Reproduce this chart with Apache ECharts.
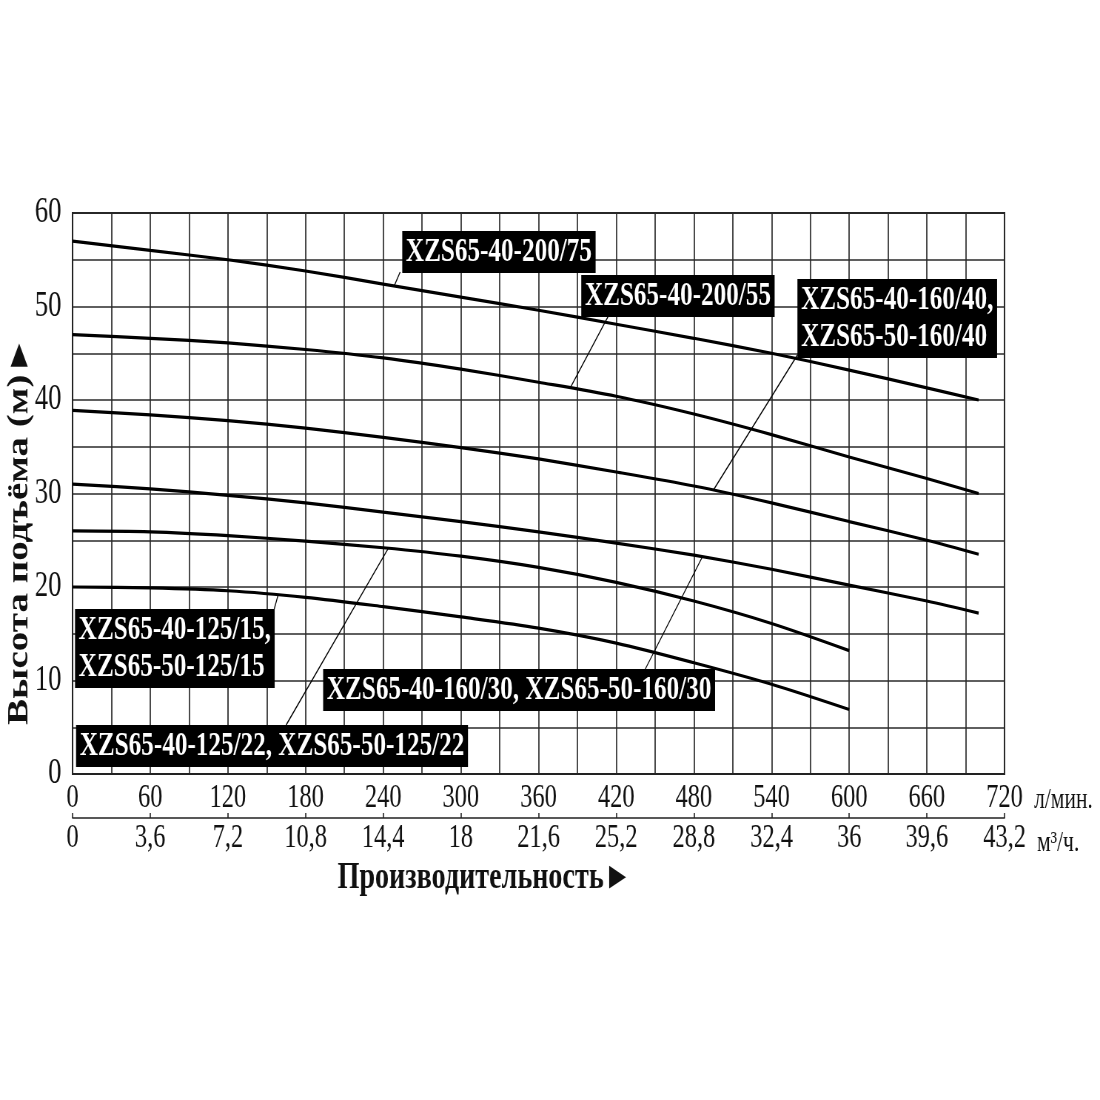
<!DOCTYPE html>
<html>
<head>
<meta charset="utf-8">
<script src="https://cdn.jsdelivr.net/npm/echarts@6/dist/echarts.min.js"></script>
<style>
html,body{margin:0;padding:0;background:#fff;overflow:hidden;}
#wrap{width:1100px;height:1100px;overflow:hidden;position:relative;background:#fff;}
#main{width:1486px;height:1100px;transform:scaleX(0.74024);transform-origin:0 0;}
</style>
</head>
<body>
<div id="wrap"><div id="main"></div></div>
<script>
// ---- data ----
const flowLong  = [0, 60, 120, 180, 240, 300, 360, 420, 480, 540, 600, 660, 700];
const flowShort = [0, 60, 120, 180, 240, 300, 360, 420, 480, 540, 600];
const head_200_75 = [57, 56, 55, 53.8, 52.4, 51.0, 49.6, 48.1, 46.6, 45.0, 43.2, 41.3, 40.0];
const head_200_55 = [47, 46.6, 46.1, 45.4, 44.5, 43.3, 41.9, 40.4, 38.5, 36.3, 33.9, 31.6, 30.0];
const head_160_40 = [38.9, 38.4, 37.8, 37.0, 36.0, 34.9, 33.7, 32.3, 30.8, 29.0, 27.0, 25.0, 23.5];
const head_160_30 = [31, 30.5, 29.8, 29.0, 28.0, 27.0, 25.9, 24.7, 23.4, 21.9, 20.2, 18.5, 17.2];
const head_125_22 = [26, 25.9, 25.5, 24.9, 24.2, 23.3, 22.1, 20.5, 18.5, 16.1, 13.2];
const head_125_15 = [20, 19.9, 19.6, 18.9, 17.9, 16.8, 15.6, 14.0, 11.9, 9.6, 6.9];

const curveNames = ['XZS65-40-200/75', 'XZS65-40-200/55', 'XZS65-40-160/40', 'XZS65-40-160/30', 'XZS65-40-125/22', 'XZS65-40-125/15'];
const curveFlows = [flowLong, flowLong, flowLong, flowLong, flowShort, flowShort];
const curveHeads = [head_200_75, head_200_55, head_160_40, head_160_30, head_125_22, head_125_15];

const flowLabels = ['0','60','120','180','240','300','360','420','480','540','600','660','720'];
const m3hLabels  = ['0','3,6','7,2','10,8','14,4','18','21,6','25,2','28,8','32,4','36','39,6','43,2'];
const headLabels = ['0','10','20','30','40','50','60'];

const labelTexts = [
  'XZS65-40-200/75',
  'XZS65-40-200/55',
  'XZS65-40-160/40,\nXZS65-50-160/40',
  'XZS65-40-160/30, XZS65-50-160/30',
  'XZS65-40-125/15,\nXZS65-50-125/15',
  'XZS65-40-125/22, XZS65-50-125/22'
];
// ---- annotation layout (data coordinates) ----
const labelLayout = [
  {box:[254.7, 58.07], from:[253.1, 53.69], curve:0, at:248.5},
  {box:[393.0, 53.37], from:[413.9, 48.98], curve:1, at:384.5},
  {box:[560.0, 52.94], from:[560.0, 44.81], curve:2, at:495.0},
  {box:[193.6, 11.23], from:[442.5, 11.23], curve:3, at:486.6},
  {box:[1.9, 17.65],   from:[155.8, 17.65], curve:5, at:158.8},
  {box:[2.7, 5.24],    from:[165.0, 5.24],  curve:4, at:243.9}
];

const FONT = '"Liberation Serif", "Times New Roman", serif';

function interp(xs, ys, x) {
  for (let i = 0; i < xs.length - 1; i++) {
    if (x >= xs[i] && x <= xs[i + 1]) {
      const t = (x - xs[i]) / (xs[i + 1] - xs[i]);
      return ys[i] + t * (ys[i + 1] - ys[i]);
    }
  }
  return ys[ys.length - 1];
}

const chart = echarts.init(document.getElementById('main'), null, {renderer: 'canvas'});

const series = curveNames.map((n, i) => ({
  name: n,
  type: 'line',
  smooth: 0.3,
  showSymbol: false,
  lineStyle: {color: '#000', width: 3.2},
  data: curveFlows[i].map((x, j) => [x, curveHeads[i][j]]),
  z: 5
}));

function hiddenAxis(offset, extra) {
  return Object.assign({
    type: 'value', min: 0, max: 720, position: 'bottom', offset: offset,
    axisLine: {show: false}, axisTick: {show: false}, axisLabel: {show: false}, splitLine: {show: false}
  }, extra);
}

const option = {
  animation: false,
  backgroundColor: '#fff',
  grid: {left: 98, right: 129, top: 213, bottom: 326, show: true, borderColor: '#222', borderWidth: 2,
         containLabel: false, outerBoundsMode: 'none'},
  xAxis: [
    {
      type: 'value', min: 0, max: 720, interval: 30,
      axisLine: {show: true, lineStyle: {color: '#222', width: 2}},
      axisTick: {show: false},
      splitLine: {show: true, lineStyle: {color: '#2a2a2a', width: 1.7}},
      axisLabel: {formatter: v => (v % 60 === 0 ? flowLabels[v / 60] : ''), fontFamily: FONT, fontSize: 33, color: '#111', margin: 8}
    },
    {
      type: 'value', min: 0, max: 720, interval: 60, position: 'bottom', offset: 44,
      axisLine: {show: true, onZero: false, lineStyle: {color: '#222', width: 1.6}},
      axisTick: {show: true, inside: true, length: 5, lineStyle: {color: '#222', width: 1.6}},
      splitLine: {show: false},
      axisLabel: {formatter: v => m3hLabels[Math.round(v / 60)], fontFamily: FONT, fontSize: 33, color: '#111', margin: 4}
    },
    hiddenAxis(44, {
      name: 'Производительность►', nameLocation: 'middle', nameGap: 41,
      nameTextStyle: {fontFamily: FONT, fontSize: 38, fontWeight: 'bold', color: '#111', padding: [0, 146, 0, 0]}
    }),
    hiddenAxis(26, {
      name: 'л/мин.', nameLocation: 'end', nameGap: 40,
      nameTextStyle: {fontFamily: FONT, fontSize: 29, color: '#111'}
    }),
    hiddenAxis(69, {
      name: 'м³/ч.', nameLocation: 'end', nameGap: 44,
      nameTextStyle: {fontFamily: FONT, fontSize: 29, color: '#111'}
    })
  ],
  yAxis: {
    type: 'value', min: 0, max: 60, interval: 5,
    axisLine: {show: true, lineStyle: {color: '#222', width: 2}},
    axisTick: {show: false},
    splitLine: {show: true, lineStyle: {color: '#2a2a2a', width: 1.7}},
    axisLabel: {formatter: v => (v % 10 === 0 ? headLabels[v / 10] : ''), fontFamily: FONT, fontSize: 36, color: '#111', margin: 15, padding: [8, 0, 0, 0]},
    name: 'Высота подъёма (м)►', nameLocation: 'middle', nameGap: 52, nameMoveOverlap: false,
    nameTextStyle: {fontFamily: FONT, fontSize: 39, fontWeight: 'bold', color: '#111', padding: [0, 74, 0, 0]}
  },
  series: series
};

chart.setOption(option);

const graphics = [];
labelLayout.forEach((a, i) => {
  const endY = interp(curveFlows[a.curve], curveHeads[a.curve], a.at);
  const p1 = chart.convertToPixel({gridIndex: 0}, a.from);
  const p2 = chart.convertToPixel({gridIndex: 0}, [a.at, endY]);
  graphics.push({
    type: 'line', z: 90,
    shape: {x1: p1[0], y1: p1[1], x2: p2[0], y2: p2[1]},
    style: {stroke: '#000', lineWidth: 1.3}
  });
  const pb = chart.convertToPixel({gridIndex: 0}, a.box);
  graphics.push({
    type: 'text', z: 100, x: pb[0], y: pb[1],
    style: {
      text: labelTexts[i], fill: '#fff',
      font: 'bold 34px ' + FONT,
      align: 'left', verticalAlign: 'top',
      lineHeight: 37,
      backgroundColor: '#000', padding: [3, 5, 2, 5]
    }
  });
});
chart.setOption({graphic: graphics});
</script>
</body>
</html>
